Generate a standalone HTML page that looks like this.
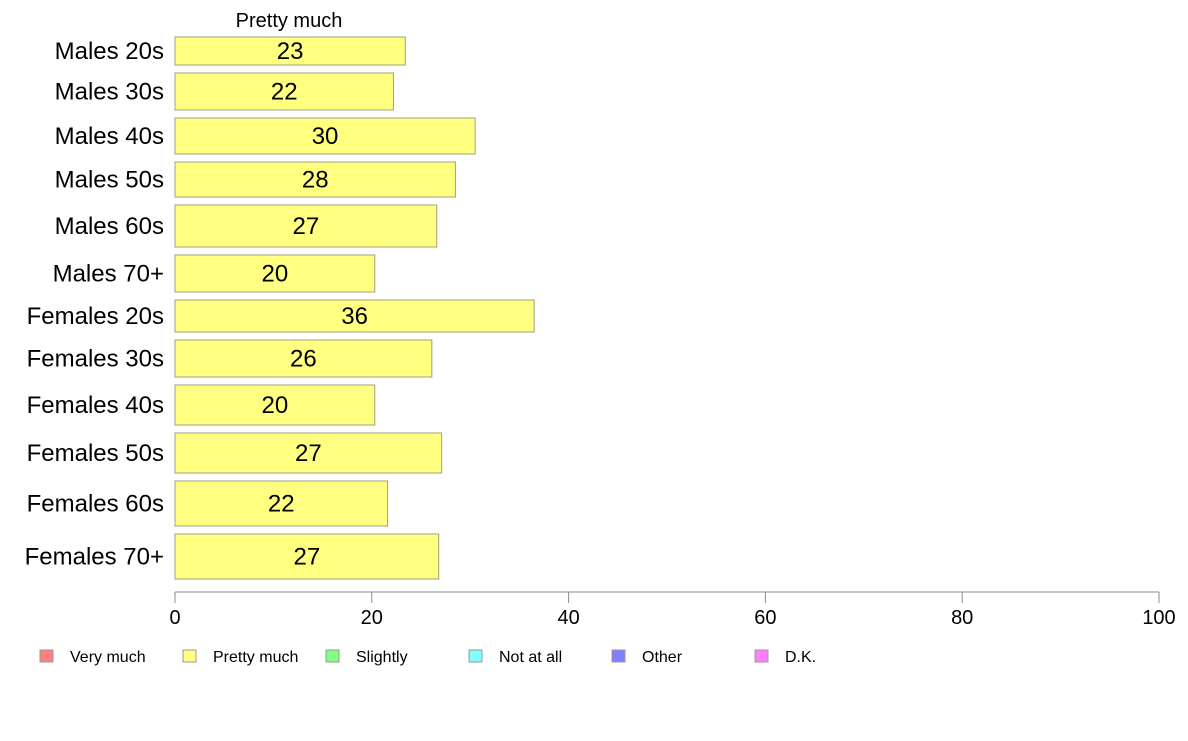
<!DOCTYPE html>
<html><head><meta charset="utf-8"><style>
body{margin:0;background:#fff;font-family:"Liberation Sans",Arial,sans-serif}
svg text{font-family:"Liberation Sans",Arial,sans-serif}
</style></head><body>
<svg id="chart" width="1188" height="736" xmlns="http://www.w3.org/2000/svg">
<text x="289" y="27" font-size="20" text-anchor="middle">Pretty much</text>
<g id="bars"></g><g id="axis"></g><g id="legend"></g>
</svg>
<script>
const categories=["Males 20s","Males 30s","Males 40s","Males 50s","Males 60s","Males 70+","Females 20s","Females 30s","Females 40s","Females 50s","Females 60s","Females 70+"];
const values=[23.4,22.2,30.5,28.5,26.6,20.3,36.5,26.1,20.3,27.1,21.6,26.8];
const labels=["23","22","30","28","27","20","36","26","20","27","22","27"];
const sampleSizes=[28,37,36,35,42,37,32,37,40,40,45,45];
const ticks=[0,20,40,60,80,100];
const legendLabels=["Very much","Pretty much","Slightly","Not at all","Other","D.K."];
const legendColors=["#ff8080","#ffff80","#80ff80","#80ffff","#8080ff","#ff80ff"];
const NS="http://www.w3.org/2000/svg";
const x0=175,x1=1159,topY=37,gap=8;
const xs=v=>x0+(x1-x0)*v/100;
function mk(t,a,p){const e=document.createElementNS(NS,t);for(const k in a)e.setAttribute(k,a[k]);p.appendChild(e);return e;}
const bars=document.getElementById('bars');
let yy=topY;
categories.forEach((c,i)=>{
 const h=sampleSizes[i];
 const r=mk('rect',{x:x0,y:yy,width:xs(values[i])-x0,height:h,fill:'#ffff80',stroke:'#a0a080','stroke-width':1},bars);
 
 
 const t=mk('text',{x:(x0+xs(values[i]))/2,y:yy+h/2+8,'font-size':24,'text-anchor':'middle'},bars);t.textContent=labels[i];
 
 
 const l=mk('text',{x:164,y:yy+h/2+8,'font-size':24,'text-anchor':'end'},bars);l.textContent=c;
 
 
 yy+=h+gap;
});
const ax=document.getElementById('axis');
const al=mk('line',{x1:x0,x2:x1,y1:592,y2:592,stroke:'#888','stroke-width':1},ax);


ticks.forEach(v=>{
 const tl=mk('line',{x1:xs(v),x2:xs(v),y1:592,y2:603,stroke:'#888'},ax);
 
 
 const t=mk('text',{x:xs(v),y:624,'font-size':20,'text-anchor':'middle'},ax);t.textContent=v;
 
 
});
const lg=document.getElementById('legend');
legendLabels.forEach((n,i)=>{
 const lx=40+i*143;
 const s=mk('rect',{x:lx,y:650,width:13,height:12,fill:legendColors[i],stroke:'#999'},lg);
 
 
 const t=mk('text',{x:lx+30,y:662,'font-size':16},lg);t.textContent=n;
 
 
});
</script>
</body></html>
